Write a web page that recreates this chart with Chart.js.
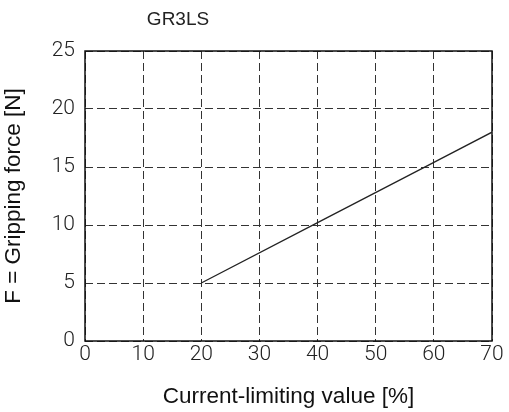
<!DOCTYPE html>
<html>
<head>
<meta charset="utf-8">
<script src="https://cdn.jsdelivr.net/npm/chart.js@4"></script>
<style>
  html, body { margin: 0; padding: 0; background: #fff; }
  #wrap { width: 509px; height: 412px; }
</style>
</head>
<body>
<div id="wrap"><canvas id="c" width="509" height="412"></canvas></div>
<script>
const chartTitle = "GR3LS";
const xAxisTitle = "Current-limiting value [%]";
const yAxisTitle = "F = Gripping force [N]";
const xTicks = [0, 10, 20, 30, 40, 50, 60, 70];
const yTicks = [0, 5, 10, 15, 20, 25];
const currentLimit = [20, 40, 60, 70];
const grippingForce = [5.0, 10.2, 15.4, 18.0];

const tickFont = { family: "Roboto", size: 21, weight: 300 };
const labelFont = { family: "Liberation Sans, Arial, sans-serif", size: 22.5 };

const framePlugin = {
  id: 'frame',
  beforeDatasetsDraw(chart) {
    const { ctx, chartArea: a } = chart;
    ctx.save();
    ctx.strokeStyle = '#111';
    ctx.lineWidth = 1.5;
    ctx.setLineDash([]);
    ctx.strokeRect(a.left, a.top, a.right - a.left, a.bottom - a.top);
    ctx.restore();
  }
};

const titlePlugin = {
  id: 'freeTitle',
  afterDraw(chart) {
    const ctx = chart.ctx;
    ctx.save();
    ctx.font = "19px 'Liberation Sans', Arial, sans-serif";
    ctx.fillStyle = '#222';
    ctx.textAlign = 'center';
    ctx.textBaseline = 'middle';
    ctx.fillText(chartTitle, 178, 20);
    ctx.restore();
  }
};

new Chart(document.getElementById('c'), {
  type: 'scatter',
  data: {
    datasets: [{
      data: currentLimit.map((x, i) => ({ x: x, y: grippingForce[i] })),
      showLine: true,
      borderColor: '#222',
      borderWidth: 1.3,
      pointRadius: 0,
      fill: false
    }]
  },
  options: {
    responsive: false,
    animation: false,
    layout: { padding: { top: 51, right: 17, left: 0, bottom: 0 } },
    plugins: {
      legend: { display: false },
      tooltip: { enabled: false },
      title: { display: false }
    },
    scales: {
      x: {
        type: 'linear',
        min: 0, max: 70,
        afterBuildTicks(scale) { scale.ticks = xTicks.map(v => ({ value: v })); },
        afterFit(scale) { scale.height = 71; },
        ticks: { font: tickFont, color: '#222', padding: 1, maxRotation: 0 },
        grid: { color: '#333', lineWidth: 1, drawTicks: false },
        border: { display: false, dash: [8, 4] },
        title: { display: true, text: xAxisTitle, font: labelFont, color: '#111', padding: { top: 0, bottom: 2 } }
      },
      y: {
        type: 'linear',
        min: 0, max: 25,
        afterBuildTicks(scale) { scale.ticks = yTicks.map(v => ({ value: v })); },
        afterFit(scale) { scale.width = 85; },
        ticks: { font: tickFont, color: '#222', padding: 10 },
        grid: { color: '#333', lineWidth: 1, drawTicks: false },
        border: { display: false, dash: [8, 4] },
        title: { display: true, text: yAxisTitle, font: labelFont, color: '#111', padding: { top: 0, bottom: 0 } }
      }
    }
  },
  plugins: [framePlugin, titlePlugin]
});
</script>
</body>
</html>
